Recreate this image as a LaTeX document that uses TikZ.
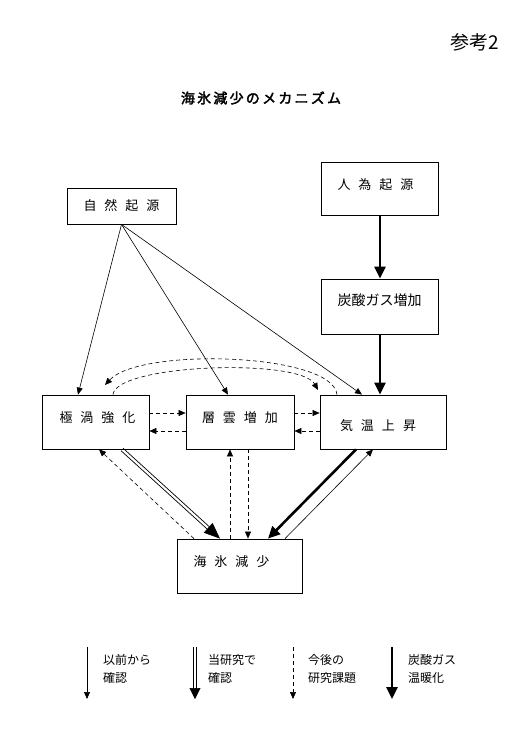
\documentclass[tikz,border=0pt]{standalone}
\usepackage{fontspec}
\setmainfont{Noto Sans CJK JP}
\newfontfamily\cjktitle[FakeBold=2.5,LetterSpace=16]{Noto Sans CJK JP}
\usetikzlibrary{arrows.meta,calc}
\newcommand\gp{\hspace{8pt}}
\tikzset{
  box/.style={draw, line width=0.8pt, inner sep=0pt, font=\fontsize{13}{13}\selectfont},
  arrthin/.style={line width=0.6pt, -{Triangle[length=7pt,width=6pt]}},
  arrdash/.style={line width=0.6pt, dash pattern=on 4pt off 3pt, -{Triangle[length=7pt,width=6pt]}},
  arrthick/.style={line width=2.6pt, -{Triangle[length=12pt,width=11pt]}},
  arrdblhead/.style={line width=0.6pt, -{Triangle[length=16pt,width=13pt]}},
  arrdblheadsmall/.style={line width=0.6pt, -{Triangle[length=11pt,width=11pt]}},
  dblrail/.style={line width=0.7pt},
  lgtext/.style={anchor=north west, align=left, inner sep=0pt, font=\fontsize{12}{18}\selectfont},
}
% #1 start, #2 end, #3 shortening, #4 head style
\newcommand\dblarrow[4]{%
  \coordinate (dblE) at ($(#2)!#3!(#1)$);
  \draw[dblrail] ($(#1)!1.6pt!90:(#2)$) -- ($(dblE)!1.6pt!-90:(#1)$);
  \draw[dblrail] ($(#1)!1.6pt!-90:(#2)$) -- ($(dblE)!1.6pt!90:(#1)$);
  \draw[#4] (dblE) -- (#2);
}
\begin{document}
\begin{tikzpicture}[x=1pt,y=-1pt]
\useasboundingbox (0,0) rectangle (519,737);

% titles
\node[font=\fontsize{19}{19}\selectfont] (ref) at (475,42) {参考2};
\node[font=\cjktitle\fontsize{14}{14}\selectfont] (title) at (261,98) {海氷減少のメカニズム};

% boxes
\node[box, minimum width=117pt, minimum height=53pt,
      label={[font=\fontsize{13}{13}\selectfont, xshift=-4pt, yshift=4pt]center:人\gp 為\gp 起\gp 源}] (jinni) at (379.5,188.5) {};
\node[box, minimum width=109pt, minimum height=36pt] (shizen) at (121.5,206) {自\gp 然\gp 起\gp 源};
\node[box, minimum width=117pt, minimum height=55pt,
      label={[font=\fontsize{14}{14}\selectfont, yshift=6pt]center:炭酸ガス増加}] (co2) at (379.5,306.5) {};
\node[box, minimum width=107pt, minimum height=54pt,
      label={[font=\fontsize{13}{13}\selectfont, xshift=2pt, yshift=4pt]center:極\gp 渦\gp 強\gp 化}] (kyoku) at (95.5,422) {};
\node[box, minimum width=108pt, minimum height=54pt,
      label={[font=\fontsize{13}{13}\selectfont, yshift=4pt]center:層\gp 雲\gp 増\gp 加}] (sou) at (240,422) {};
\node[box, minimum width=126pt, minimum height=54pt,
      label={[font=\fontsize{13}{13}\selectfont, xshift=-5pt, yshift=-4pt]center:気\gp 温\gp 上\gp 昇}] (kion) at (383,422) {};
\node[box, minimum width=125pt, minimum height=54pt,
      label={[font=\fontsize{13}{13}\selectfont, xshift=-8pt, yshift=4pt]center:海\gp 氷\gp 減\gp 少}] (kaihyo) at (239.5,566) {};

% anthropogenic chain
\draw[arrthick] (jinni.south -| 380,0) -- (co2.north -| 380,0);
\draw[arrthick] (co2.south -| 380,0) -- (kion.north -| 380,0);

% natural source
\draw[arrthin] (shizen.south) -- (kyoku.north -| 78,0);
\draw[arrthin] (shizen.south) -- (sou.north -| 228,0);
\draw[arrthin] (shizen.south) -- (kion.north -| 362,0);

% horizontal dashed
\draw[arrdash] (kyoku.east |- 0,413) -- (sou.west |- 0,413);
\draw[arrdash] (sou.west |- 0,431) -- (kyoku.east |- 0,431);
\draw[arrdash] (sou.east |- 0,413) -- (kion.west |- 0,413);
\draw[arrdash] (kion.west |- 0,431) -- (sou.east |- 0,431);

% arcs
\coordinate (arcA) at (105,385);
\coordinate (arcB) at (318,390);
\draw[arrdash] (kion.north -| 337,0) .. controls (333,353) and (140,347) .. (arcA);
\draw[arrdash] (kyoku.north -| 113,0) .. controls (116,364) and (300,358) .. (arcB);

% vertical dashed
\draw[arrdash] (kaihyo.north -| 230,0) -- (sou.south -| 230,0);
\draw[arrdash] (sou.south -| 248,0) -- (kaihyo.north -| 248,0);

% diagonals
\draw[arrdash] (kaihyo.north -| 194,0) -- (kyoku.south -| 99,0);
\coordinate (d1a) at (kyoku.south -| 122,0);
\coordinate (d1b) at (kaihyo.north -| 220,0);
\dblarrow{d1a}{d1b}{13pt}{arrdblhead}
\draw[arrthick] (kion.south -| 356,0) -- (kaihyo.north -| 268,0);
\draw[arrthin] (kaihyo.north -| 285,0) -- (kion.south -| 373,0);

% legend
\coordinate (l1a) at (87,647);  \coordinate (l1b) at (87,699);
\coordinate (l2a) at (195,647); \coordinate (l2b) at (195,699);
\coordinate (l3a) at (293,647); \coordinate (l3b) at (293,699);
\coordinate (l4a) at (392,647); \coordinate (l4b) at (392,699);
\draw[arrthin] (l1a) -- (l1b);
\dblarrow{l2a}{l2b}{9pt}{arrdblheadsmall}
\draw[arrdash] (l3a) -- (l3b);
\draw[arrthick] (l4a) -- (l4b);
\node[lgtext] (t1) at (103,654) {以前から\\確認};
\node[lgtext] (t2) at (208,654) {当研究で\\確認};
\node[lgtext] (t3) at (308,654) {今後の\\研究課題};
\node[lgtext] (t4) at (408,654) {炭酸ガス\\温暖化};
\end{tikzpicture}
\end{document}
